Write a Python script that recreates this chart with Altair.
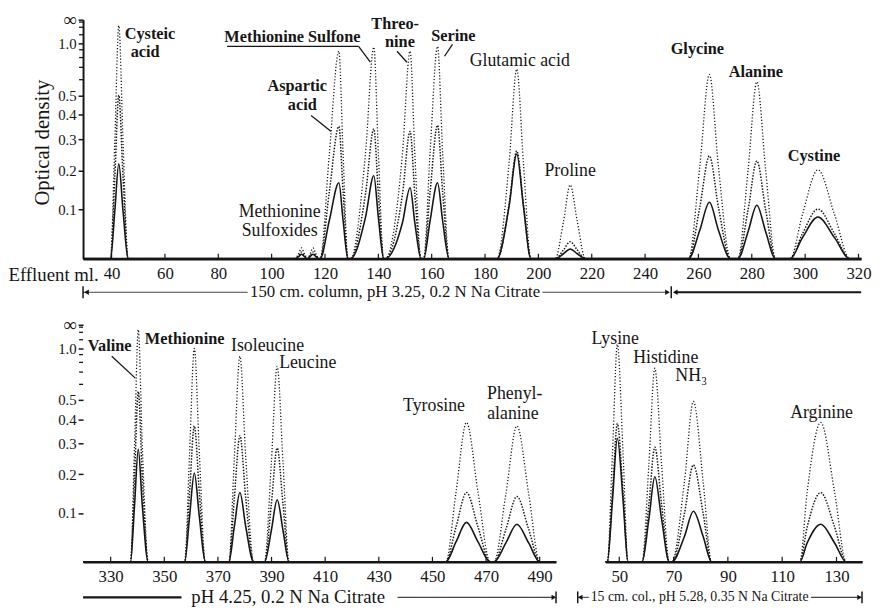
import altair as alt
import pandas as pd

# ---------------- data ----------------
# Top panel: 150 cm column, effluent ml; optical density of three recorder traces
TOP_ML = [29.3,
          39.6, 41.2, 42.7, 44.3, 46.2,
          108.8, 110.2, 111.2, 112.2, 113.4, 114.5, 115.5, 116.5, 117.6,
          118.2, 121.6, 125.2, 126.8, 128.6,
          129.6, 135.2, 138.3, 140.0, 142.0,
          142.6, 149.0, 151.9, 153.7, 156.0,
          157.0, 159.4, 162.2, 164.1, 166.5,
          184.5, 189.0, 191.9, 194.4, 197.2,
          206.3, 209.4, 211.9, 214.6, 217.6,
          256.3, 260.5, 264.1, 267.5, 272.0,
          274.8, 278.6, 281.9, 285.2, 288.9,
          294.4, 299.0, 304.8, 311.0, 316.7,
          321.0]
TOP_HIGH = [0,
            0, 0.29, 1.6, 0.29, 0,
            0, 0.0099, 0.02, 0.0099, 0, 0.0099, 0.02, 0.0099, 0,
            0, 0.247, 0.88, 0.247, 0,
            0, 0.254, 0.94, 0.254, 0,
            0, 0.247, 0.88, 0.247, 0,
            0, 0.255, 0.95, 0.255, 0,
            0, 0.22, 0.685, 0.22, 0,
            0, 0.073, 0.16, 0.073, 0,
            0, 0.211, 0.64, 0.211, 0,
            0, 0.201, 0.585, 0.201, 0,
            0, 0.089, 0.202, 0.089, 0,
            0]
TOP_MID = [0,
           0, 0.18, 0.5, 0.18, 0,
           0, 0.006, 0.012, 0.006, 0, 0.006, 0.012, 0.006, 0,
           0, 0.141, 0.35, 0.141, 0,
           0, 0.138, 0.34, 0.138, 0,
           0, 0.134, 0.33, 0.134, 0,
           0, 0.142, 0.355, 0.142, 0,
           0, 0.111, 0.26, 0.111, 0,
           0, 0.016, 0.032, 0.016, 0,
           0, 0.105, 0.244, 0.105, 0,
           0, 0.099, 0.228, 0.099, 0,
           0, 0.048, 0.101, 0.048, 0,
           0]
TOP_LOW = [0,
           0, 0.096, 0.22, 0.096, 0,
           0, 0.004, 0.008, 0.004, 0, 0.004, 0.008, 0.004, 0,
           0, 0.075, 0.166, 0.075, 0,
           0, 0.083, 0.185, 0.083, 0,
           0, 0.070, 0.153, 0.070, 0,
           0, 0.075, 0.166, 0.075, 0,
           0, 0.107, 0.25, 0.107, 0,
           0, 0.009, 0.018, 0.009, 0,
           0, 0.055, 0.117, 0.055, 0,
           0, 0.052, 0.11, 0.052, 0,
           0, 0.040, 0.083, 0.040, 0,
           0]

# Bottom-left panel: pH 4.25 buffer, effluent ml
BL_ML = [319.7,
         337.4, 338.9, 340.3, 341.8, 344.0,
         357.6, 359.4, 361.2, 363.1, 365.3,
         374.1, 376.1, 378.2, 380.4, 383.3,
         387.4, 389.9, 392.1, 394.3, 396.5,
         455.0, 458.8, 462.7, 467.0, 471.5,
         473.0, 477.4, 481.5, 485.9, 490.0,
         496.1]
BL_HIGH = [0, 0, 0.292, 1.68, 0.292, 0, 0, 0.26, 1.0, 0.26, 0, 0, 0.247, 0.876, 0.247, 0,
           0, 0.231, 0.757, 0.231, 0, 0, 0.151, 0.385, 0.151, 0, 0, 0.147, 0.37, 0.147, 0, 0]
BL_MID = [0, 0, 0.193, 0.55, 0.193, 0, 0, 0.147, 0.37, 0.147, 0, 0, 0.134, 0.33, 0.134, 0,
          0, 0.119, 0.284, 0.119, 0, 0, 0.069, 0.15, 0.069, 0, 0, 0.064, 0.14, 0.064, 0, 0]
BL_LOW = [0, 0, 0.118, 0.28, 0.118, 0, 0, 0.090, 0.204, 0.090, 0, 0, 0.069, 0.15, 0.069, 0,
          0, 0.061, 0.132, 0.061, 0, 0, 0.038, 0.079, 0.038, 0, 0, 0.036, 0.075, 0.036, 0, 0]

# Bottom-right panel: 15 cm column, effluent ml
BR_ML = [44.9,
         45.6, 47.5, 49.3, 51.4, 53.2,
         58.4, 60.9, 63.1, 65.6, 68.4,
         69.4, 74.0, 77.3, 80.9, 84.0,
         116.5, 119.2, 124.2, 129.3, 133.6,
         139.45]
BR_HIGH = [0, 0, 0.266, 1.08, 0.266, 0, 0, 0.228, 0.737, 0.228, 0, 0, 0.179, 0.49, 0.179, 0,
           0, 0.151, 0.385, 0.151, 0, 0]
BR_MID = [0, 0, 0.150, 0.38, 0.150, 0, 0, 0.120, 0.287, 0.120, 0, 0, 0.099, 0.228, 0.099, 0,
          0, 0.069, 0.15, 0.069, 0, 0]
BR_LOW = [0, 0, 0.131, 0.32, 0.131, 0, 0, 0.086, 0.193, 0.086, 0, 0, 0.049, 0.104, 0.049, 0,
          0, 0.036, 0.075, 0.036, 0, 0]

# axes
TOP_TICKS = [40, 60, 80, 100, 120, 140, 160, 180, 200, 220, 240, 260, 280, 300, 320]
BL_TICKS = [330, 350, 370, 390, 410, 430, 450, 470, 490]
BR_TICKS = [50, 70, 90, 110, 130]
Y_TICKS_OD = [0.1, 0.2, 0.3, 0.4, 0.5, 1.0]
Y_MINOR_OD = [0.6, 0.7, 0.8, 0.9, 1.2, 1.5, 2.0]

# peak labels: text, ml position, height as fraction of the scale, bold
TOP_LBL_TEXT = ["Cysteic", "acid", "Methionine Sulfone", "Threo-", "nine", "Serine", "Aspartic", "acid",
                "Glutamic acid", "Methionine", "Sulfoxides", "Proline", "Glycine", "Alanine", "Cystine"]
TOP_LBL_ML = [54.4, 52.6, 107.8, 146.3, 148.1, 168.1, 109.6, 111.5, 193.0, 103.0, 103.0, 211.9, 259.6, 281.5, 303.3]
TOP_LBL_POS = [0.921, 0.843, 0.905, 0.962, 0.884, 0.909, 0.702, 0.620, 0.806, 0.176, 0.095, 0.347, 0.855, 0.760, 0.409]
TOP_LBL_BOLD = [True, True, True, True, True, True, True, True, False, False, False, False, True, True, True]
TOP_LEAD = [(83.3, 0.888, 132.6, 0.888), (132.6, 0.888, 137.0, 0.822), (147.0, 0.868, 150.7, 0.822),
            (167.8, 0.897, 164.8, 0.847), (114.8, 0.599, 122.2, 0.533)]

BL_LBL_TEXT = ["Valine", "Methionine", "Isoleucine", "Leucine", "Tyrosine", "Phenyl-", "alanine"]
BL_LBL_ML = [329.6, 357.6, 388.5, 403.5, 450.6, 480.7, 480.0]
BL_LBL_POS = [0.8875, 0.921, 0.8875, 0.817, 0.6375, 0.6875, 0.604]
BL_LBL_BOLD = [True, True, False, False, False, False, False]
BL_LEAD = [(330.4, 0.867, 339.2, 0.775)]

BR_LBL_TEXT = ["Lysine", "Histidine", "NH\u2083", "Arginine"]
BR_LBL_ML = [48.5, 67.1, 76.5, 124.5]
BR_LBL_POS = [0.921, 0.8375, 0.7625, 0.608]
BR_LBL_BOLD = [False, False, False, False]

# buffer annotations under the axes
TOP_NOTE = "150 cm. column, pH 3.25, 0.2 N Na Citrate"
TOP_NOTE_ML = 146.3
TOP_THIN = [(29.3, 91.0), (201.5, 248.6)]
TOP_THICK = [(251.8, 321.0)]
TOP_BARS = [29.3, 249.8]
TOP_ARROW_L = [30.6, 251.3]
TOP_ARROW_R = [248.4]

BL_NOTE = "pH 4.25, 0.2 N Na Citrate"
BL_NOTE_ML = 396.2
BL_THIN = [(437.0, 495.6)]
BL_THICK = [(319.7, 356.4)]
BL_BARS = [496.1]
BL_ARROW_L = []
BL_ARROW_R = [495.3]

BR_NOTE = "15 cm. col., pH 5.28, 0.35 N Na Citrate"
BR_NOTE_ML = 79.6
BR_THIN = [(35.0, 38.8), (120.6, 139.0)]
BR_THICK = []
BR_BARS = [34.7, 139.4]
BR_ARROW_L = [35.6]
BR_ARROW_R = [138.5]

# ---------------- styling ----------------
INK = "#161616"
SERIF = "Liberation Serif"
LABEL_EXPR = "datum.value > 0.995 ? '\u221e' : format(-log(1 - datum.value) / LN10, '.1f')"
Y_VALUES = [1 - 10 ** (-v) for v in Y_TICKS_OD] + [1.0]


def x_axis(ticks, title=None):
    kw = dict(values=ticks, format="d", grid=False, ticks=False, domain=True, domainColor=INK,
              domainWidth=2.6, labelFont=SERIF, labelFontSize=17, labelColor=INK, labelPadding=7,
              labelFlush=False, labelOverlap=False)
    if title:
        kw.update(title=title, titleFont=SERIF, titleFontSize=19, titleFontWeight="normal",
                  titleColor=INK, titleX=-76, titleY=22, titleAlign="left", titleBaseline="alphabetic")
    else:
        kw["title"] = None
    return alt.Axis(**kw)


def y_axis(domain_line, title=None):
    kw = dict(values=Y_VALUES, labelExpr=LABEL_EXPR, grid=False, ticks=True, tickSize=5, tickWidth=1.5,
              tickColor=INK, domain=domain_line, domainColor=INK, domainWidth=2, labelFont=SERIF,
              labelFontSize={"condition": {"test": "datum.value > 0.995", "value": 19}, "value": 15},
              labelColor=INK, labelPadding=2, labelOverlap=False, labelBaseline="middle")
    if title:
        kw.update(title=title, titleFont=SERIF, titleFontSize=21, titleFontWeight="normal", titleColor=INK,
                  titleX=-41, titleY=124, titleAngle=270, titleAlign="center", titleBaseline="middle")
    else:
        kw["title"] = None
    return alt.Axis(**kw)


def panel(ml, high, mid, low, domain, width, height, ticks, lbl_text, lbl_ml, lbl_pos, lbl_bold, leaders,
          note, note_ml, thin, thick, bars, arrows_l, arrows_r, show_y, y_domain, y_title=None, x_title=None,
          note_size=17, note_dy=34):
    xe = alt.X("ml:Q", scale=alt.Scale(domain=domain, nice=False, zero=False), axis=x_axis(ticks, x_title))
    ye = alt.Y("f:Q", scale=alt.Scale(domain=[0, 1], nice=False, zero=True),
               axis=y_axis(y_domain, y_title) if show_y else None)

    rows = []
    for name, vals in (("high", high), ("mid", mid), ("low", low)):
        assert len(vals) == len(ml)
        for x, v in zip(ml, vals):
            rows.append({"ml": x, "od": v, "trace": name})
    traces = alt.Chart(pd.DataFrame(rows)).transform_calculate(f="1 - pow(10, -datum.od)")
    hi = traces.transform_filter("datum.trace == 'high'").mark_line(
        interpolate="monotone", color=INK, strokeWidth=1.3, strokeDash=[1.2, 2.0]).encode(x=xe, y=ye)
    md = traces.transform_filter("datum.trace == 'mid'").mark_line(
        interpolate="monotone", color=INK, strokeWidth=1.5, strokeDash=[1.5, 1.5]).encode(x=xe, y=ye)
    lo = traces.transform_filter("datum.trace == 'low'").mark_line(
        interpolate="monotone", color=INK, strokeWidth=1.6).encode(x=xe, y=ye)
    layers = [hi, md, lo]

    # small inward ticks on the effluent axis
    layers.append(alt.Chart(pd.DataFrame({"ml": ticks})).mark_rule(color=INK, strokeWidth=1.2).encode(
        x=xe, y=alt.value(height), y2=alt.value(height - 5)))

    if show_y:
        minor = pd.DataFrame({"od": Y_MINOR_OD})
        layers.append(alt.Chart(minor).transform_calculate(f="1 - pow(10, -datum.od)").mark_rule(
            color=INK, strokeWidth=1.3).encode(y=ye, x=alt.value(-4), x2=alt.value(0)))

    lbl = pd.DataFrame({"t": lbl_text, "ml": lbl_ml, "f": lbl_pos, "b": lbl_bold})
    if lbl["b"].any():
        layers.append(alt.Chart(lbl[lbl["b"]]).mark_text(
            font=SERIF, fontSize=16.5, fontWeight="bold", color=INK, align="center", baseline="alphabetic").encode(
            x=xe, y=ye, text="t:N"))
    if (~lbl["b"]).any():
        layers.append(alt.Chart(lbl[~lbl["b"]]).mark_text(
            font=SERIF, fontSize=18, color=INK, align="center", baseline="alphabetic").encode(
            x=xe, y=ye, text="t:N"))

    if leaders:
        ld = pd.DataFrame(leaders, columns=["ml", "f", "ml2", "f2"])
        layers.append(alt.Chart(ld).mark_rule(color=INK, strokeWidth=1.3).encode(
            x=xe, y=ye, x2="ml2:Q", y2="f2:Q"))

    ny = height + note_dy
    if thin:
        layers.append(alt.Chart(pd.DataFrame(thin, columns=["ml", "ml2"])).mark_rule(
            color="#444444", strokeWidth=1.1).encode(x=xe, x2="ml2:Q", y=alt.value(ny)))
    if thick:
        layers.append(alt.Chart(pd.DataFrame(thick, columns=["ml", "ml2"])).mark_rule(
            color=INK, strokeWidth=2.2).encode(x=xe, x2="ml2:Q", y=alt.value(ny)))
    if bars:
        layers.append(alt.Chart(pd.DataFrame({"ml": bars})).mark_rule(color=INK, strokeWidth=1.5).encode(
            x=xe, y=alt.value(ny - 6), y2=alt.value(ny + 6)))
    if arrows_l:
        layers.append(alt.Chart(pd.DataFrame({"ml": arrows_l})).mark_point(
            shape="triangle-left", filled=True, size=30, color=INK, opacity=1).encode(x=xe, y=alt.value(ny)))
    if arrows_r:
        layers.append(alt.Chart(pd.DataFrame({"ml": arrows_r})).mark_point(
            shape="triangle-right", filled=True, size=30, color=INK, opacity=1).encode(x=xe, y=alt.value(ny)))
    layers.append(alt.Chart(pd.DataFrame({"t": [note], "ml": [note_ml]})).mark_text(
        font=SERIF, fontSize=note_size, color=INK, align="center", baseline="middle").encode(
        x=xe, y=alt.value(ny), text="t:N"))

    return alt.layer(*layers).properties(width=width, height=height)


top = panel(TOP_ML, TOP_HIGH, TOP_MID, TOP_LOW, [29.3, 321.0], 788, 242, TOP_TICKS,
            TOP_LBL_TEXT, TOP_LBL_ML, TOP_LBL_POS, TOP_LBL_BOLD, TOP_LEAD,
            TOP_NOTE, TOP_NOTE_ML, TOP_THIN, TOP_THICK, TOP_BARS, TOP_ARROW_L, TOP_ARROW_R,
            show_y=True, y_domain=True, y_title="Optical density", x_title="Effluent ml.",
            note_size=17, note_dy=34)

bl = panel(BL_ML, BL_HIGH, BL_MID, BL_LOW, [319.7, 496.1], 479, 240, BL_TICKS,
           BL_LBL_TEXT, BL_LBL_ML, BL_LBL_POS, BL_LBL_BOLD, BL_LEAD,
           BL_NOTE, BL_NOTE_ML, BL_THIN, BL_THICK, BL_BARS, BL_ARROW_L, BL_ARROW_R,
           show_y=True, y_domain=False, note_size=19, note_dy=36)

br = panel(BR_ML, BR_HIGH, BR_MID, BR_LOW, [44.9, 139.45], 260, 240, BR_TICKS,
           BR_LBL_TEXT, BR_LBL_ML, BR_LBL_POS, BR_LBL_BOLD, [],
           BR_NOTE, BR_NOTE_ML, BR_THIN, BR_THICK, BR_BARS, BR_ARROW_L, BR_ARROW_R,
           show_y=False, y_domain=False, note_size=14, note_dy=36)

bottom = alt.hconcat(bl, br, spacing=50, bounds="flush")
chart = alt.vconcat(top, bottom, spacing=67, bounds="flush").properties(
    padding={"left": 0, "top": -1, "right": 2, "bottom": 0}, background="white"
).configure_view(stroke=None)

chart.save("out.html", embed_options={"renderer": "svg", "actions": False})
